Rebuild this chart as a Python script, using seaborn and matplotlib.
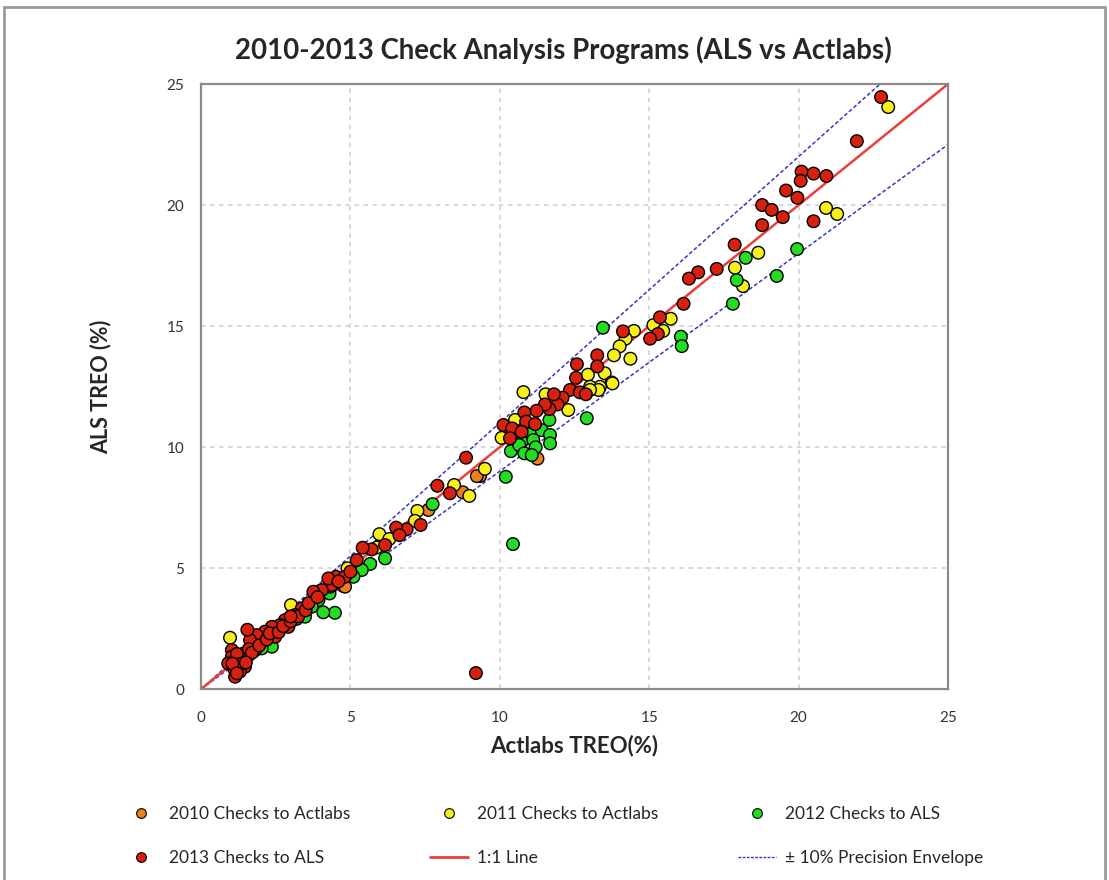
import numpy as np
import pandas as pd
import matplotlib
matplotlib.use('Agg')
import matplotlib.pyplot as plt
import seaborn as sns
from matplotlib.lines import Line2D
from matplotlib.patches import Rectangle

# =========================
# Data
# =========================
x_2010 = [9.34, 9.23, 8.76, 7.61, 4.76, 4.82, 11.26, 2.55, 3.25, 1.35, 6.00, 10.50]
y_2010 = [8.80, 8.80, 8.13, 7.40, 4.26, 4.23, 9.52, 2.45, 3.15, 1.30, 5.95, 10.60]

x_2011 = [23.00, 20.92, 21.29, 18.65, 17.87, 18.14, 15.72, 15.14, 15.47, 14.49, 14.21,
          14.01, 13.82, 14.37, 12.95, 13.51, 13.74, 13.35, 13.02, 13.77, 13.30, 13.02,
          10.79, 11.53, 12.29, 10.51, 10.06, 9.50, 8.47, 8.98, 7.24, 7.16, 5.97, 6.30,
          5.88, 4.90, 3.01, 0.97]
y_2011 = [24.05, 19.88, 19.63, 18.03, 17.41, 16.65, 15.30, 15.04, 14.80, 14.80, 14.48,
          14.16, 13.79, 13.65, 12.99, 13.05, 12.67, 12.49, 12.49, 12.63, 12.36, 12.36,
          12.27, 12.18, 11.53, 11.12, 10.38, 9.10, 8.43, 7.98, 7.36, 6.95, 6.40, 6.20,
          5.85, 4.99, 3.47, 2.12]

x_2012 = [19.95, 18.23, 19.27, 17.93, 17.80, 16.06, 16.09, 13.45, 12.91, 11.66, 11.07,
          11.40, 11.68, 10.73, 11.12, 11.68, 10.37, 10.65, 10.82, 11.20, 11.07, 10.20,
          10.44, 7.75, 6.16, 5.66, 5.38, 5.10, 4.48, 4.09, 3.93, 3.70, 3.48, 2.53, 2.37,
          2.03, 1.20, 1.60, 2.80, 3.20, 1.75, 2.95, 4.30]
y_2012 = [18.18, 17.82, 17.07, 16.90, 15.92, 14.56, 14.17, 14.93, 11.19, 11.12, 10.56,
          10.70, 10.50, 10.22, 10.29, 10.15, 9.83, 10.08, 9.74, 9.99, 9.67, 8.77,
          5.99, 7.64, 5.40, 5.17, 4.92, 4.64, 3.15, 3.17, 3.68, 3.40, 2.99, 2.37, 1.75,
          1.68, 1.00, 1.40, 2.60, 2.90, 1.55, 2.70, 3.95]

x_2013 = [22.76, 21.95, 20.10, 20.50, 20.93, 20.07, 19.58, 19.96, 18.78, 19.10, 19.47,
          18.78, 20.50, 17.86, 17.26, 16.64, 16.33, 16.15, 15.36, 15.29, 15.03, 14.12,
          13.26, 13.26, 12.58, 12.55, 12.35, 12.68, 12.88, 12.10, 11.93, 11.66, 11.51,
          11.81, 11.23, 10.82, 10.88, 11.18, 10.12, 10.41, 10.73, 10.34, 9.20, 8.87,
          7.91, 8.33, 7.35, 6.88, 6.53, 6.64, 6.16, 5.71, 5.41, 5.21, 4.52, 4.82, 4.32,
          4.37, 4.26, 4.04, 3.76, 3.37, 3.15, 2.92, 2.81, 2.64, 2.48, 2.37, 2.14, 2.03,
          1.86, 1.81, 1.64, 1.55, 1.47, 1.42, 1.25, 1.03, 1.03, 0.91, 1.47, 1.30, 1.14,
          1.10, 1.20, 1.35, 1.60, 1.70, 1.95, 2.20, 2.30, 2.60, 2.75, 3.00, 3.25, 3.50,
          3.60, 3.90, 1.05, 1.20, 1.50, 4.60, 5.00, 3.00]
y_2013 = [24.46, 22.64, 21.38, 21.30, 21.20, 21.00, 20.60, 20.30, 20.00, 19.80, 19.50,
          19.17, 19.33, 18.36, 17.36, 17.22, 16.96, 15.92, 15.36, 14.67, 14.48, 14.78,
          13.79, 13.33, 13.42, 12.86, 12.36, 12.26, 12.18, 12.04, 11.76, 11.57, 11.76,
          12.18, 11.50, 11.43, 11.05, 10.95, 10.91, 10.77, 10.63, 10.36, 0.66, 9.56,
          8.40, 8.09, 6.78, 6.60, 6.67, 6.36, 5.95, 5.77, 5.84, 5.33, 4.64, 4.64, 4.23,
          4.30, 4.57, 4.09, 4.02, 3.33, 3.06, 2.57, 2.85, 2.64, 2.16, 2.57, 2.37, 1.95,
          2.23, 1.61, 2.02, 2.45, 1.28, 1.47, 1.20, 1.61, 1.33, 1.06, 0.92, 0.72, 0.51,
          0.85, 1.45, 1.05, 1.65, 1.50, 1.80, 2.05, 2.30, 2.35, 2.60, 2.80, 3.00, 3.25,
          3.55, 3.80, 1.05, 0.65, 1.10, 4.45, 4.85, 3.00]

series_names = ['2010 Checks to Actlabs', '2011 Checks to Actlabs',
                '2012 Checks to ALS', '2013 Checks to ALS']
series_colors = ['#EF7F1E', '#F7EF1C', '#22DD22', '#D8200E']
axis_max = 25
envelope = 0.10

frames = []
for name, xs, ys in zip(series_names, [x_2010, x_2011, x_2012, x_2013],
                        [y_2010, y_2011, y_2012, y_2013]):
    frames.append(pd.DataFrame({'actlabs': xs, 'als': ys, 'series': name}))
df = pd.concat(frames, ignore_index=True)

# =========================
# Plot
# =========================
sns.set_style('white')
plt.rcParams['font.family'] = ['Lato', 'DejaVu Sans']

fig = plt.figure(figsize=(11.09, 8.80), dpi=100)
ax = fig.add_axes([0.1813, 0.217, 0.6735, 0.6875])

line_x = np.array([0, axis_max])
ax.plot(line_x, line_x * (1 + envelope), color='#3535C8', lw=1.1, ls=(0, (2.5, 1.5)), zorder=2)
ax.plot(line_x, line_x * (1 - envelope), color='#3535C8', lw=1.1, ls=(0, (2.5, 1.5)), zorder=2)
ax.plot(line_x, line_x, color='#E8403A', lw=1.8, zorder=2)

sns.scatterplot(data=df, x='actlabs', y='als', hue='series', hue_order=series_names,
                palette=dict(zip(series_names, series_colors)), s=82,
                edgecolor='black', linewidth=1.0, legend=False, ax=ax, zorder=3)

ax.set_xlim(0, axis_max)
ax.set_ylim(0, axis_max)
ax.set_xticks(range(0, axis_max + 1, 5))
ax.set_yticks(range(0, axis_max + 1, 5))
ax.grid(True, color='#d6d6d6', lw=1.3, ls=(0, (2.5, 2.5)))
ax.set_axisbelow(True)
for sp in ax.spines.values():
    sp.set_color('#8a8a8a')
    sp.set_linewidth(1.6)
ax.tick_params(direction='out', length=4, width=1.2, color='#8a8a8a',
               labelsize=11, labelcolor='#333333')
ax.tick_params(axis='x', pad=12)
ax.tick_params(axis='y', pad=8)

ax.set_xlabel('Actlabs TREO(%)', fontsize=16, fontweight='bold', labelpad=7)
ax.set_ylabel('ALS TREO (%)', fontsize=15.5, fontweight='bold', labelpad=40)
fig.text(0.508, 0.943, '2010-2013 Check Analysis Programs (ALS vs Actlabs)',
         ha='center', va='center', fontsize=19.9, fontweight='bold')

# Legend (row order a b c / d e f -> column-first order for matplotlib)
def dot(c):
    return Line2D([], [], marker='o', ls='none', markerfacecolor=c,
                  markeredgecolor='black', markeredgewidth=0.8, markersize=7)

h = [dot(c) for c in series_colors]
h_line = Line2D([], [], color='#E8403A', lw=2)
h_env = Line2D([], [], color='#3535C8', lw=1, ls=(0, (2, 1)))
handles = [h[0], h[3], h[1], h_line, h[2], h_env]
labels = [series_names[0], series_names[3], series_names[1], '1:1 Line',
          series_names[2], '\u00b1 10% Precision Envelope']
fig.legend(handles, labels, ncol=3, loc='center', bbox_to_anchor=(0.4983, 0.050),
           frameon=False, fontsize=12.5, labelspacing=1.6, columnspacing=4.6,
           handlelength=2.2, handletextpad=0.5)

# gray frame around the figure
fig.patches.append(Rectangle((0.0036, -0.01), 0.9928, 1.002, transform=fig.transFigure,
                             fill=False, edgecolor='#9a9a9a', lw=2))

fig.savefig('out.png', dpi=100)
